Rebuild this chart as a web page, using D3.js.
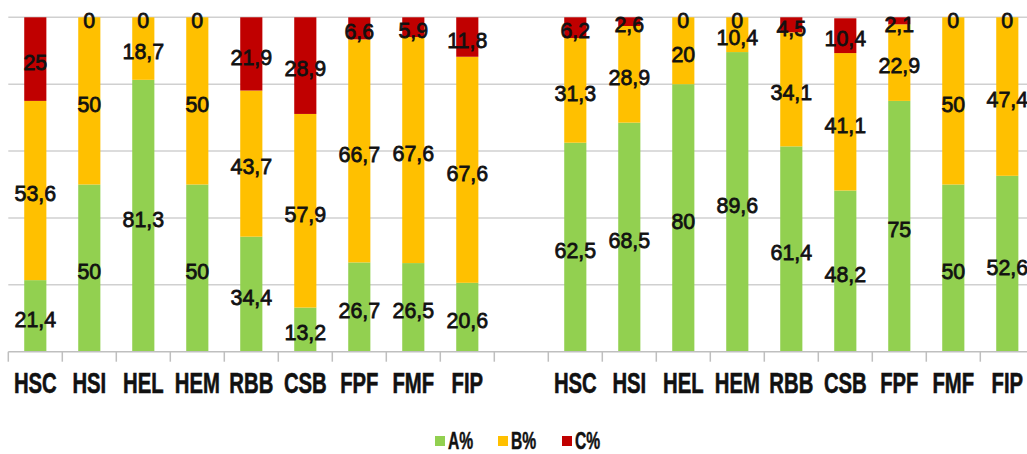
<!DOCTYPE html>
<html>
<head>
<meta charset="utf-8">
<script src="https://cdn.jsdelivr.net/npm/d3@7"></script>
<style>
  html, body { margin: 0; padding: 0; background: #fff; }
  svg { display: block; }
</style>
</head>
<body>
<svg id="chart" width="1027" height="454"></svg>
<script>
// Categories shown in each of the two panels
const categories = ["HSC", "HSI", "HEL", "HEM", "RBB", "CSB", "FPF", "FMF", "FIP"];
const seriesNames = ["A%", "B%", "C%"];

// First panel
const leftA = [21.4, 50, 81.3, 50, 34.4, 13.2, 26.7, 26.5, 20.6];
const leftB = [53.6, 50, 18.7, 50, 43.7, 57.9, 66.7, 67.6, 67.6];
const leftC = [25, 0, 0, 0, 21.9, 28.9, 6.6, 5.9, 11.8];

// Second panel
const rightA = [62.5, 68.5, 80, 89.6, 61.4, 48.2, 75, 50, 52.6];
const rightB = [31.3, 28.9, 20, 10.4, 34.1, 41.1, 22.9, 50, 47.4];
const rightC = [6.2, 2.6, 0, 0, 4.5, 10.4, 2.1, 0, 0];

const yTicks = [0, 20, 40, 60, 80, 100];
const colors = { "A%": "#92D050", "B%": "#FFC000", "C%": "#C00000" };

// Build rows: left group, an empty spacer slot, right group
const rows = [];
categories.forEach((c, i) => rows.push({ key: "L-" + c, label: c, "A%": leftA[i], "B%": leftB[i], "C%": leftC[i] }));
const gapKey = "gap";
categories.forEach((c, i) => rows.push({ key: "R-" + c, label: c, "A%": rightA[i], "B%": rightB[i], "C%": rightC[i] }));
const domain = rows.slice(0, 9).map(d => d.key).concat([gapKey], rows.slice(9).map(d => d.key));

const svg = d3.select("#chart");
const x0 = 8.3, x1 = 1034.3, yTop = 17.3, yBot = 351.7;

const x = d3.scaleBand().domain(domain).range([x0, x1]).paddingInner(0.59).paddingOuter(0.295);
const y = d3.scaleLinear().domain([0, 100]).range([yBot, yTop]);
const step = x.step();

// Horizontal gridlines
svg.append("g").selectAll("line").data(yTicks.filter(t => t > 0)).join("line")
  .attr("x1", x0).attr("x2", 1027)
  .attr("y1", d => y(d)).attr("y2", d => y(d))
  .attr("stroke", "#d0d0d0").attr("stroke-width", 1.5);

// Stacked bars
const stack = d3.stack().keys(seriesNames)(rows);
const layers = svg.append("g").selectAll("g").data(stack).join("g")
  .attr("fill", d => colors[d.key]);
layers.selectAll("rect").data(d => d).join("rect")
  .attr("x", d => x(d.data.key))
  .attr("width", x.bandwidth())
  .attr("y", d => y(d[1]))
  .attr("height", d => y(d[0]) - y(d[1]));

// Category axis: baseline and boundary ticks
const axis = svg.append("g");
axis.append("line").attr("x1", x0).attr("x2", 1027).attr("y1", yBot).attr("y2", yBot)
  .attr("stroke", "#bfbfbf").attr("stroke-width", 1.5);
const bounds = domain.map(k => x(k) - step * x.paddingInner() / 2).concat([x1]);
axis.selectAll("line.tick").data(bounds.filter(b => b <= 1027)).join("line")
  .attr("class", "tick")
  .attr("x1", d => d).attr("x2", d => d)
  .attr("y1", yBot).attr("y2", yBot + 10)
  .attr("stroke", "#bfbfbf").attr("stroke-width", 1.5);

axis.selectAll("text.cat").data(rows).join("text")
  .attr("class", "cat")
  .attr("transform", d => `translate(${x(d.data ? d.data.key : d.key) + x.bandwidth() / 2},393) scale(0.7,1)`)
  .attr("text-anchor", "middle")
  .attr("font-family", "Liberation Sans, Arial, sans-serif")
  .attr("font-weight", "bold")
  .attr("font-size", 29)
  .attr("fill", "#111")
  .attr("stroke", "#111").attr("stroke-width", 0.6)
  .text(d => d.label);

// Value labels centred in each segment
const fmt = v => String(v).replace(".", ",");
const labels = svg.append("g");
stack.forEach(layer => {
  labels.selectAll(null).data(layer).join("text")
    .attr("transform", d => `translate(${x(d.data.key) + x.bandwidth() / 2},${(y(d[0]) + y(d[1])) / 2 + 3}) scale(0.93,1)`)
    .attr("text-anchor", "middle")
    .attr("dominant-baseline", "central")
    .attr("font-family", "Liberation Sans, Arial, sans-serif")
    .attr("font-size", 23)
    .attr("fill", "#111")
    .attr("stroke", "#111").attr("stroke-width", 0.8)
    .text(d => fmt(d.data[layer.key]));
});

// Legend
const legendX = [435, 498, 562];
const legend = svg.append("g").selectAll("g").data(seriesNames).join("g")
  .attr("transform", (d, i) => `translate(${legendX[i]},436)`);
legend.append("rect").attr("width", 10).attr("height", 10).attr("fill", d => colors[d]);
legend.append("text")
  .attr("transform", "translate(13,12.5) scale(0.68,1)")
  .attr("font-family", "Liberation Sans, Arial, sans-serif")
  .attr("font-weight", "bold")
  .attr("font-size", 23)
  .attr("fill", "#111")
  .attr("stroke", "#111").attr("stroke-width", 0.5)
  .text(d => d);
</script>
</body>
</html>
